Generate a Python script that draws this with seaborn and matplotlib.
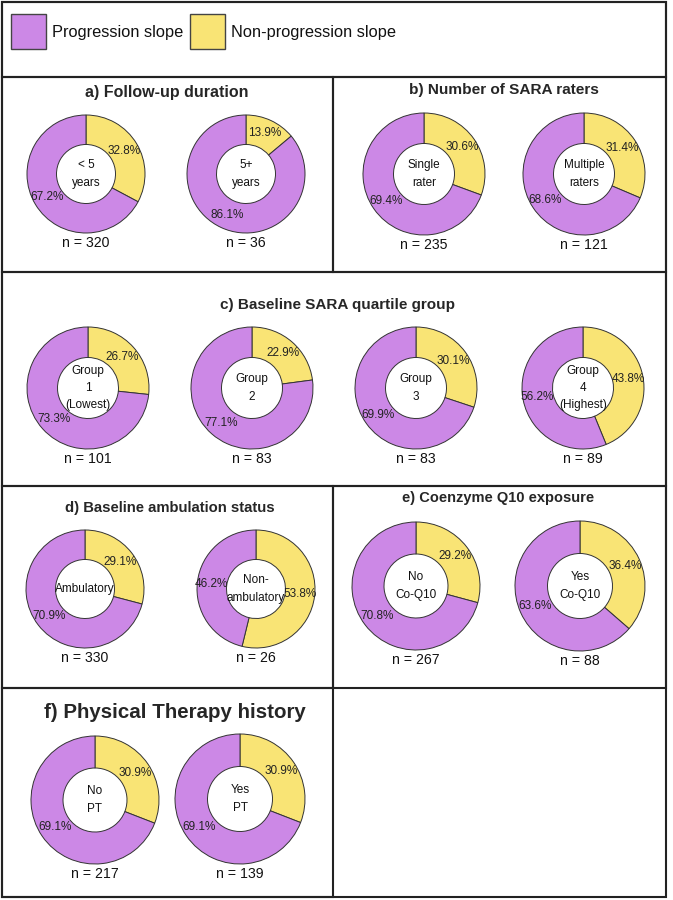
import numpy as np
import pandas as pd
import seaborn as sns
import matplotlib.pyplot as plt
from matplotlib.patches import Rectangle

sns.set_theme(style="white")
plt.rcParams['font.family'] = ['Liberation Sans', 'DejaVu Sans']

# data
legend_labels = ['Progression slope', 'Non-progression slope']
panel_titles = ['a) Follow-up duration', 'b) Number of SARA raters',
                'c) Baseline SARA quartile group', 'd) Baseline ambulation status',
                'e) Coenzyme Q10 exposure', 'f) Physical Therapy history']
center_labels = ['< 5\nyears', '5+\nyears', 'Single\nrater', 'Multiple\nraters',
                 'Group\n1\n(Lowest)', 'Group\n2', 'Group\n3', 'Group\n4\n(Highest)',
                 'Ambulatory', 'Non-\nambulatory', 'No\nCo-Q10', 'Yes\nCo-Q10',
                 'No\nPT', 'Yes\nPT']
prog_pct = [67.2, 86.1, 69.4, 68.6, 73.3, 77.1, 69.9, 56.2, 70.9, 46.2, 70.8, 63.6, 69.1, 69.1]
nonprog_pct = [32.8, 13.9, 30.6, 31.4, 26.7, 22.9, 30.1, 43.8, 29.1, 53.8, 29.2, 36.4, 30.9, 30.9]
n_counts = [320, 36, 235, 121, 101, 83, 83, 89, 330, 26, 267, 88, 217, 139]

purple = '#CC88E6'
yellow = '#F9E475'

W, H = 673, 900
fig = plt.figure(figsize=(W / 100, H / 100), dpi=100)

def fx(x):
    return x / W

def fy(y):
    return 1 - y / H

# panel frames (pixel boxes)
boxes = [(2, 2, 666, 77), (2, 77, 333, 272), (333, 77, 666, 272), (2, 272, 666, 486),
         (2, 486, 333, 688), (333, 486, 666, 688), (2, 688, 333, 897), (2, 2, 666, 897)]
for x0, y0, x1, y1 in boxes:
    fig.patches.append(Rectangle((fx(x0), fy(y1)), fx(x1 - x0), (y1 - y0) / H,
                                 transform=fig.transFigure, fill=False,
                                 lw=1.5, ec='#222222'))

# legend
for (sx, tx), lab, col in zip([(11, 52), (190, 231)], legend_labels, [purple, yellow]):
    fig.patches.append(Rectangle((fx(sx), fy(49)), fx(35), 35 / H, transform=fig.transFigure,
                                 fc=col, ec='#444444', lw=1))
    fig.text(fx(tx), fy(32), lab, fontsize=11.8, va='center', ha='left', color='#111111')

# titles
title_pos = [(167, 92), (504, 90), (338, 305), (170, 508), (498, 498), (175, 713)]
title_fs = [11.5, 11.1, 11.0, 10.7, 10.5, 14.8]
for t, (x, y), fs in zip(panel_titles, title_pos, title_fs):
    fig.text(fx(x), fy(y), t, fontsize=fs, fontweight='bold', ha='center', va='center')

# donut centers and radii in pixels
donuts = [(86, 174, 59), (246, 174, 59), (424, 174, 61), (584, 174, 61),
          (88, 388, 61), (252, 388, 61), (416, 388, 61), (583, 388, 61),
          (85, 589, 59), (256, 589, 59), (416, 586, 64), (580, 586, 65),
          (95, 800, 64), (240, 799, 65)]

for i, (cx, cy, r) in enumerate(donuts):
    ax = fig.add_axes([fx(cx - r), fy(cy + r), fx(2 * r), 2 * r / H])
    vals = [nonprog_pct[i], prog_pct[i]]
    wedges, texts, autotexts = ax.pie(vals, colors=[yellow, purple], startangle=90,
                                      counterclock=False, radius=1,
                                      autopct='%1.1f%%', pctdistance=0.76,
                                      wedgeprops=dict(width=0.5, edgecolor='#333333', linewidth=0.7),
                                      textprops=dict(fontsize=8.5, color='#222222'))
    ax.text(0, 0, center_labels[i], ha='center', va='center', fontsize=8.5,
            linespacing=1.6, color='#111111')
    ax.text(0, -1 - 10 / r, 'n = %d' % n_counts[i], ha='center', va='center',
            fontsize=10.2, color='#111111')
    ax.set_xlim(-1, 1)
    ax.set_ylim(-1, 1)
    ax.set_aspect('equal')
    ax.axis('off')

fig.savefig('out.png', dpi=100)
